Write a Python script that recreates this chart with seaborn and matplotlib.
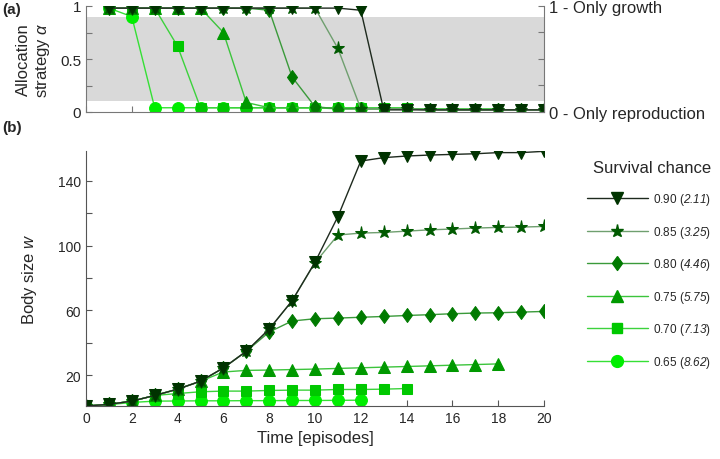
import numpy as np
import pandas as pd
import seaborn as sns
import matplotlib.pyplot as plt
from matplotlib.lines import Line2D

sns.set_style("white")
plt.rcParams['font.family'] = ['Liberation Sans', 'DejaVu Sans']
plt.rcParams['mathtext.fontset'] = 'custom'
plt.rcParams['mathtext.it'] = 'Liberation Sans:italic'
plt.rcParams['mathtext.rm'] = 'Liberation Sans'
plt.rcParams['mathtext.sf'] = 'Liberation Sans:italic'  # italic digits

# survival chances and expected lifetimes
survival = ["0.90", "0.85", "0.80", "0.75", "0.70", "0.65"]
lifetime = ["2.11", "3.25", "4.46", "5.75", "7.13", "8.62"]
diamond = [(0, 1), (0.72, 0), (0, -1), (-0.72, 0), (0, 1)]
markers = ["v", "*", diamond, "^", "s", "o"]
marker_colors = ["#003300", "#005a00", "#007a00", "#009900", "#00c800", "#00ee00"]
line_colors = ["#1e2a1e", "#6f9f6f", "#3a9a3a", "#3cc43c", "#3cd23c", "#35e035"]

# allocation strategy alpha, episodes 1..T
alpha_090 = [0.98, 0.98, 0.98, 0.98, 0.98, 0.98, 0.98, 0.98, 0.98, 0.98, 0.98, 0.96,
             0.02, 0.02, 0.02, 0.02, 0.02, 0.02, 0.02, 0.02]
alpha_085 = [0.98, 0.98, 0.98, 0.98, 0.98, 0.98, 0.98, 0.98, 0.98, 0.98, 0.60, 0.03,
             0.03, 0.03, 0.02, 0.02, 0.02, 0.02, 0.02, 0.02]
alpha_080 = [0.98, 0.98, 0.98, 0.98, 0.98, 0.98, 0.98, 0.96, 0.33, 0.05, 0.03, 0.03,
             0.03, 0.03, 0.02, 0.02, 0.02, 0.02, 0.02, 0.02]
alpha_075 = [0.98, 0.98, 0.98, 0.98, 0.98, 0.75, 0.09, 0.04, 0.04, 0.04, 0.03, 0.03,
             0.03, 0.03, 0.03, 0.03, 0.03, 0.03]
alpha_070 = [0.98, 0.98, 0.98, 0.62, 0.04, 0.04, 0.04, 0.04, 0.04, 0.04, 0.04, 0.04,
             0.04, 0.04]
alpha_065 = [0.98, 0.90, 0.04, 0.04, 0.04, 0.04, 0.04, 0.04, 0.04, 0.04, 0.04, 0.04]

# body size w, episodes 0..T
w_090 = [1, 2, 4, 7.5, 11.4, 16.3, 24.5, 34.8, 48.5, 66, 89.8, 118, 152.3,
         154.4, 155.4, 156, 156.4, 156.8, 157.5, 157.5, 158.3]
w_085 = [1, 2, 4, 7.5, 11.4, 16.3, 24.5, 34.8, 48.5, 66, 89.5, 106.6, 107.8,
         108.2, 109, 109.8, 110.3, 110.9, 111.3, 111.5, 111.9]
w_080 = [1, 2, 4, 7.5, 11.4, 16.3, 24.5, 34.8, 46.7, 53.5, 54.9, 55.3, 55.8,
         56.3, 56.9, 57.4, 58, 58.4, 58.6, 59, 59.4]
w_075 = [1, 2, 4, 7.5, 11.4, 16.3, 22, 23, 23.2, 23.5, 23.8, 24.2, 24.6,
         25, 25.4, 25.8, 26.2, 26.6, 27]
w_070 = [1, 2, 4, 7.5, 8.7, 9.8, 10.2, 10.2, 10.6, 10.8, 10.8, 11.2, 11.2, 11.4, 11.8]
w_065 = [1, 1.8, 3.2, 4, 4.1, 4.2, 4.2, 4.3, 4.3, 4.4, 4.4, 4.5, 4.6]

alphas = [alpha_090, alpha_085, alpha_080, alpha_075, alpha_070, alpha_065]
sizes = [w_090, w_085, w_080, w_075, w_070, w_065]

rows_a = []
rows_w = []
for s, a, w in zip(survival, alphas, sizes):
    for i, v in enumerate(a):
        rows_a.append({"survival": s, "t": i + 1, "alpha": v})
    for i, v in enumerate(w):
        rows_w.append({"survival": s, "t": i, "w": v})
df_a = pd.DataFrame(rows_a)
df_w = pd.DataFrame(rows_w)

fig = plt.figure(figsize=(7.2, 4.6), dpi=100)
ax_a = fig.add_axes([86 / 720, 1 - 113 / 460, 458 / 720, 106 / 460])
ax_w = fig.add_axes([86 / 720, 1 - 407 / 460, 458 / 720, 255 / 460])

msizes = [9, 9.5, 10, 9, 6.5, 8.5]

# draw lightest first so darker series sit on top
for k in reversed(range(len(survival))):
    s = survival[k]
    kw = dict(marker=markers[k], markersize=msizes[k], markerfacecolor=marker_colors[k],
              markeredgecolor=marker_colors[k], color=line_colors[k], linewidth=1.0,
              legend=False)
    sns.lineplot(data=df_a[df_a.survival == s], x="t", y="alpha", ax=ax_a, **kw)
    sns.lineplot(data=df_w[df_w.survival == s], x="t", y="w", ax=ax_w, **kw)

spine_col = "#777777"

# panel (a)
ax_a.axhspan(0.1, 0.9, color="#d9d9d9", zorder=0, lw=0)
ax_a.set_xlim(0, 20)
ax_a.set_ylim(0, 1)
ax_a.set_xticks(range(0, 21, 2))
ax_a.set_xticklabels([])
ax_a.set_yticks([0, 0.25, 0.5, 0.75, 1])
ax_a.set_yticklabels(["0", "", "0.5", "", "1"])
ax_a.set_xlabel("")
ax_a.set_ylabel("Allocation\nstrategy $\\alpha$", fontsize=12, labelpad=6)
ax_a.spines["top"].set_visible(False)
for side in ["left", "right", "bottom"]:
    ax_a.spines[side].set_color(spine_col)
    ax_a.spines[side].set_linewidth(0.8)
ax_a.tick_params(direction="in", length=4, color=spine_col, labelsize=11, left=True,
                 bottom=True)
ax_r = ax_a.twinx()
ax_r.set_ylim(0, 1)
ax_r.set_yticks([0, 0.25, 0.5, 0.75, 1])
ax_r.set_yticklabels(["0 - Only reproduction", "", "", "", "1 - Only growth"])
ax_r.tick_params(direction="in", length=4, color=spine_col, labelsize=12, right=True)
for side in ["top", "left", "bottom", "right"]:
    ax_r.spines[side].set_visible(False)

# panel (b)
ax_w.set_xlim(0, 20)
ax_w.set_ylim(1, 158.5)
ax_w.set_xticks(range(0, 21, 2))
ax_w.set_yticks(range(20, 141, 20))
ax_w.set_yticklabels(["20", "", "60", "", "100", "", "140"])
ax_w.set_xlabel("Time [episodes]", fontsize=12, labelpad=4)
ax_w.set_ylabel("Body size $\\it{w}$", fontsize=12, labelpad=14)
ax_w.spines["top"].set_visible(False)
ax_w.spines["right"].set_visible(False)
for side in ["left", "bottom"]:
    ax_w.spines[side].set_color("#555555")
    ax_w.spines[side].set_linewidth(0.8)
ax_w.tick_params(direction="in", length=4, color="#555555", labelsize=10, left=True,
                 bottom=True)

fig.text(2 / 720, 1 - 10 / 460, "(a)", fontsize=11, fontweight="bold", va="center")
fig.text(2 / 720, 1 - 128 / 460, "(b)", fontsize=11, fontweight="bold", va="center")

handles = []
for k in range(len(survival)):
    handles.append(Line2D([], [], marker=markers[k], markersize=msizes[k],
                          markerfacecolor=marker_colors[k], markeredgecolor=marker_colors[k],
                          color=line_colors[k], linewidth=1.0,
                          label=f"{survival[k]} ($\\mathsf{{{lifetime[k]}}}$)"))
leg = fig.legend(handles=handles, loc="upper left", bbox_to_anchor=(576 / 720, 1 - 150 / 460),
                 frameon=False, fontsize=8.5, title="Survival chance", title_fontsize=12,
                 handlelength=5.2, labelspacing=1.4, handletextpad=0.4)
leg._legend_box.align = "right"

fig.savefig("out.png", dpi=100)
